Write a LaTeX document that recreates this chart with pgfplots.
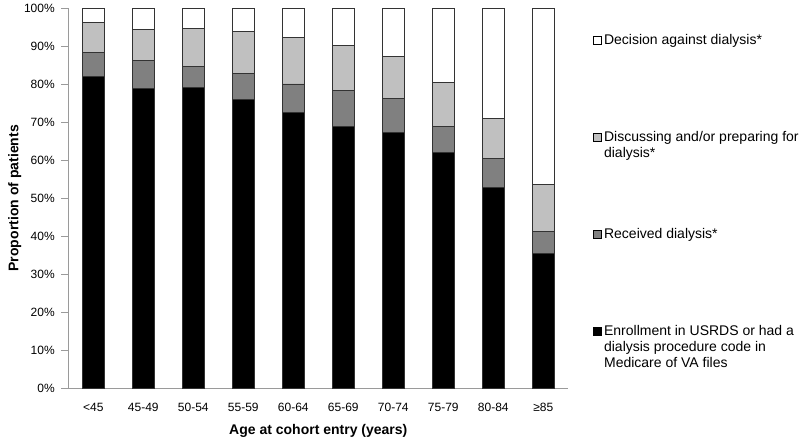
\documentclass[border=0pt]{standalone}
\usepackage{pgfplots}
\pgfplotsset{compat=1.18}
\usepackage{fontspec}
\setmainfont{Liberation Sans}
\definecolor{darkg}{HTML}{808080}
\definecolor{lightg}{HTML}{C0C0C0}
\definecolor{axgray}{HTML}{9A9A9A}
\begin{document}
\begin{tikzpicture}
\path[use as bounding box] (-68.3pt,-48.7pt) rectangle (736.7pt,388.3pt);
\begin{axis}[
  at={(0pt,0pt)}, anchor=south west,
  scale only axis, width=500pt, height=380pt,
  ybar stacked, bar width=21.3pt,
  xmin=-0.5, xmax=9.5, ymin=0, ymax=100,
  axis x line*=bottom, axis y line*=left,
  axis line style={axgray, line width=0.8pt},
  xtick={0,...,9},
  xticklabels={<45,45-49,50-54,55-59,60-64,65-69,70-74,75-79,80-84,≥85},
  x tick style={draw=none},
  xticklabel style={yshift=-4pt},
  extra x ticks={-0.5,0.5,1.5,2.5,3.5,4.5,5.5,6.5,7.5,8.5,9.5},
  extra x tick labels={},
  extra x tick style={tick style={draw=axgray, line width=0.8pt}, major tick length=5pt, tick align=outside},
  ytick={0,10,...,100},
  yticklabels={0\%,10\%,20\%,30\%,40\%,50\%,60\%,70\%,80\%,90\%,100\%},
  yticklabel style={xshift=-3pt},
  y tick style={draw=axgray, line width=0.8pt},
  tick align=outside, major tick length=7pt,
  tick label style={font=\fontsize{12}{14}\selectfont},
  xlabel={Age at cohort entry (years)},
  ylabel={Proportion of patients},
  label style={font=\bfseries\fontsize{14}{16}\selectfont},
  xlabel style={at={(axis description cs:0.5,-0.112)}, anchor=center},
  ylabel style={at={(axis description cs:-0.107,0.5)}, anchor=center},
  reverse legend,
  legend style={at={(axis description cs:1.0494,0.9316)}, anchor=north west,
    draw=none, fill=none, inner sep=0pt, row sep=0pt,
    font=\fontsize{14}{15.7}\selectfont,
    cells={anchor=north west},
    nodes={inner sep=0pt, align=left}},
  legend image code/.code={%
    \draw[#1, draw=black, line width=0.8pt] (0pt,-9.5pt) rectangle (8pt,-1.5pt);
    \path[draw=none, fill=none] (0pt,-97pt) rectangle (10.5pt,-96.9pt);},
  every axis plot/.append style={draw=black!80, line width=0.8pt},
]
\addplot[fill=black] coordinates {(0,82.1) (1,79.0) (2,79.2) (3,76.0) (4,72.6) (5,69.0) (6,67.4) (7,62.1) (8,52.9) (9,35.6)};
\addlegendentry{Enrollment in USRDS or had a\\dialysis procedure code in\\Medicare of VA files}
\addplot[fill=darkg] coordinates {(0,6.3) (1,7.2) (2,5.4) (3,6.9) (4,7.5) (5,9.4) (6,8.8) (7,6.7) (8,7.7) (9,5.6)};
\addlegendentry{Received dialysis*}
\addplot[fill=lightg] coordinates {(0,7.9) (1,8.2) (2,10.1) (3,10.9) (4,12.3) (5,11.9) (6,11.2) (7,11.6) (8,10.5) (9,12.4)};
\addlegendentry{Discussing and/or preparing for\\dialysis*}
\addplot[fill=white] coordinates {(0,3.7) (1,5.6) (2,5.3) (3,6.2) (4,7.6) (5,9.7) (6,12.6) (7,19.6) (8,28.9) (9,46.4)};
\addlegendentry{Decision against dialysis*}
\end{axis}
\end{tikzpicture}
\end{document}
